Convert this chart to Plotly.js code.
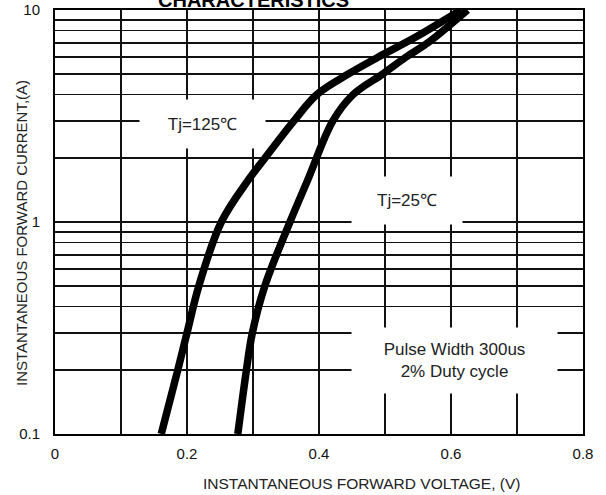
<!DOCTYPE html>
<html>
<head>
<meta charset="utf-8">
<script src="https://cdn.plot.ly/plotly-3.0.1.min.js"></script>
<style>html,body{margin:0;padding:0;background:#fff;}#chart{width:606px;height:495px;}</style>
</head>
<body>
<div id="chart"></div>
<script>
// Data
var tj125V = [0.161, 0.186, 0.200, 0.218, 0.252, 0.293, 0.318, 0.362, 0.397, 0.445, 0.490, 0.548, 0.615];
var tj125I = [0.1, 0.2, 0.3, 0.5, 1.0, 1.58, 2.0, 3.0, 4.0, 5.0, 6.0, 7.5, 10];
var tj25V = [0.277, 0.290, 0.299, 0.318, 0.356, 0.383, 0.421, 0.452, 0.497, 0.532, 0.565, 0.625];
var tj25I = [0.1, 0.2, 0.3, 0.5, 1.0, 1.58, 3.0, 4.0, 5.0, 6.0, 7.0, 10];

var xTickVals = [0, 0.1, 0.2, 0.3, 0.4, 0.5, 0.6, 0.7, 0.8];
var xTickText = ['0', '', '0.2', '', '0.4', '', '0.6', '', '0.8'];
var yTickVals = [0.1, 0.2, 0.3, 0.4, 0.5, 0.6, 0.7, 0.8, 0.9, 1, 2, 3, 4, 5, 6, 7, 8, 9, 10];
var yTickText = ['0.1', '', '', '', '', '', '', '', '', '1', '', '', '', '', '', '', '', '', '10'];

var chartTitle = 'CHARACTERISTICS';
var xTitle = 'INSTANTANEOUS FORWARD VOLTAGE, (V)';
var yTitle = 'INSTANTANEOUS FORWARD CURRENT,(A)';
var label125 = 'Tj=125℃';
var label25 = 'Tj=25℃';
var noteText = 'Pulse Width 300us<br>2% Duty cycle';

var FONT = '"Liberation Sans", Arial, sans-serif';

var traces = [
  {x: tj125V, y: tj125I, mode: 'lines', line: {color: '#000', width: 7.5, shape: 'spline', smoothing: 1.0}, hoverinfo: 'skip'},
  {x: tj25V, y: tj25I, mode: 'lines', line: {color: '#000', width: 7.5, shape: 'spline', smoothing: 1.0}, hoverinfo: 'skip'}
];

var axisCommon = {
  showgrid: true, gridcolor: '#111', gridwidth: 1.6,
  showline: true, linecolor: '#000', linewidth: 2, mirror: true,
  zeroline: false, ticks: '', tickmode: 'array',
  tickfont: {family: FONT, size: 15, color: '#111'}
};

var layout = {
  width: 606, height: 495,
  margin: {l: 55, r: 23, t: 10, b: 61},
  paper_bgcolor: '#fff', plot_bgcolor: '#fff',
  showlegend: false,
  xaxis: Object.assign({}, axisCommon, {range: [0, 0.8], tickvals: xTickVals, ticktext: xTickText, ticklabelstandoff: 5}),
  yaxis: Object.assign({}, axisCommon, {type: 'log', range: [-1, 1], tickvals: yTickVals, ticktext: yTickText, ticklabelstandoff: 10}),
  annotations: [
    {text: label125, xref: 'paper', yref: 'paper', x: 0.2794, y: 0.7311, xanchor: 'center', yanchor: 'middle',
     showarrow: false, width: 125, height: 48, bgcolor: '#fff', borderpad: 0, font: {family: FONT, size: 17, color: '#222'}},
    {text: label25, xref: 'paper', yref: 'paper', x: 0.6667, y: 0.5507, xanchor: 'center', yanchor: 'middle',
     showarrow: false, width: 110, height: 47, bgcolor: '#fff', borderpad: 0, font: {family: FONT, size: 17, color: '#222'}},
    {text: noteText, xref: 'paper', yref: 'paper', x: 0.7566, y: 0.1733, xanchor: 'center', yanchor: 'middle',
     showarrow: false, width: 205, height: 65, bgcolor: '#fff', borderpad: 0, font: {family: FONT, size: 17, color: '#222'}},
    {text: xTitle, xref: 'paper', yref: 'paper', x: 0.5814, y: -0.1179, xanchor: 'center', yanchor: 'middle',
     showarrow: false, font: {family: FONT, size: 15.5, color: '#222'}},
    {text: yTitle, xref: 'paper', yref: 'paper', x: -0.0644, y: 0.474, xanchor: 'center', yanchor: 'middle',
     textangle: -90, showarrow: false, font: {family: FONT, size: 15, color: '#222'}},
    {text: '<b>' + chartTitle + '</b>', xref: 'paper', yref: 'paper', x: 0.375, y: 1.0236, xanchor: 'center', yanchor: 'middle',
     showarrow: false, font: {family: FONT, size: 20, color: '#000'}}
  ]
};

Plotly.newPlot('chart', traces, layout, {staticPlot: true, displayModeBar: false});
</script>
</body>
</html>
